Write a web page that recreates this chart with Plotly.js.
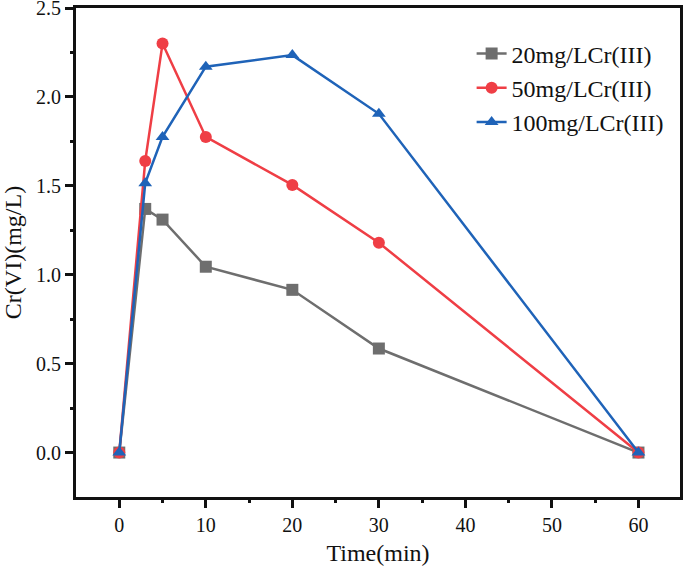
<!DOCTYPE html>
<html><head><meta charset="utf-8">
<script src="https://cdn.plot.ly/plotly-3.0.1.min.js"></script>
<style>html,body{margin:0;padding:0;background:#fff}#c{width:685px;height:566px}.modebar-container,.modebar{display:none !important}</style>
</head><body><div id="c"></div>
<script>
const time = [0, 3, 5, 10, 20, 30, 60];
const s20 = [0, 1.37, 1.31, 1.045, 0.915, 0.585, 0];
const s50 = [0, 1.64, 2.30, 1.775, 1.505, 1.18, 0];
const s100 = [0, 1.515, 1.775, 2.17, 2.235, 1.905, 0];
const names = ['20mg/LCr(III)', '50mg/LCr(III)', '100mg/LCr(III)'];
const xTicks = [0, 10, 20, 30, 40, 50, 60];
const xMinorTicks = [5, 15, 25, 35, 45, 55];
const yTicks = [0, 0.5, 1.0, 1.5, 2.0, 2.5];
const yTickText = ['0.0', '0.5', '1.0', '1.5', '2.0', '2.5'];
const yMinorTicks = [0.25, 0.75, 1.25, 1.75, 2.25];

const colors = ['#6e6e6e', '#ef3e45', '#1f63b8'];
const symbols = ['square', 'circle', 'triangle-up'];
const series = [s20, s50, s100];
const traces = series.map((y, i) => ({
  x: time, y: y, name: names[i], type: 'scatter', mode: 'lines+markers',
  line: {color: colors[i], width: 2.5},
  marker: {color: colors[i], symbol: symbols[i], size: 12}
}));
// empty helper trace so the overlay axes carrying the minor ticks are drawn
traces.unshift({x: [], y: [], xaxis: 'x2', yaxis: 'y2', type: 'scatter', mode: 'markers',
  showlegend: false, hoverinfo: 'skip'});

const FAM = '"Liberation Serif", "Times New Roman", serif';
const INK = '#111111';
const xRange = [-5, 64.8];
const yRange = [-0.25, 2.5];
const layout = {
  width: 685, height: 566,
  margin: {l: 76, r: 5, t: 8, b: 69},
  font: {family: FAM, color: INK, size: 20},
  showlegend: true,
  legend: {x: 0.655, y: 0.952, xanchor: 'left', yanchor: 'top',
    font: {size: 24}, bgcolor: 'rgba(0,0,0,0)'},
  xaxis: {
    range: xRange, tickvals: xTicks,
    showline: true, linewidth: 3, linecolor: INK, mirror: true,
    ticks: 'outside', ticklen: 8, tickwidth: 3, tickcolor: INK,
    showgrid: false, zeroline: false,
    title: {text: 'Time(min)', font: {size: 24}}
  },
  yaxis: {
    range: yRange, tickvals: yTicks, ticktext: yTickText,
    showline: true, linewidth: 3, linecolor: INK, mirror: true,
    ticks: 'outside', ticklen: 8, tickwidth: 3, tickcolor: INK,
    showgrid: false, zeroline: false, ticklabeloverflow: 'allow',
    title: {text: 'Cr(VI)(mg/L)', font: {size: 24}}
  },
  xaxis2: {
    overlaying: 'x', side: 'bottom', anchor: 'y2', range: xRange,
    tickvals: xMinorTicks, showticklabels: false,
    ticks: 'outside', ticklen: 5, tickwidth: 3, tickcolor: INK,
    showline: false, showgrid: false, zeroline: false
  },
  yaxis2: {
    overlaying: 'y', side: 'left', anchor: 'x2', range: yRange,
    tickvals: yMinorTicks, showticklabels: false,
    ticks: 'outside', ticklen: 5, tickwidth: 3, tickcolor: INK,
    showline: false, showgrid: false, zeroline: false
  }
};
Plotly.newPlot('c', traces, layout);
</script></body></html>
